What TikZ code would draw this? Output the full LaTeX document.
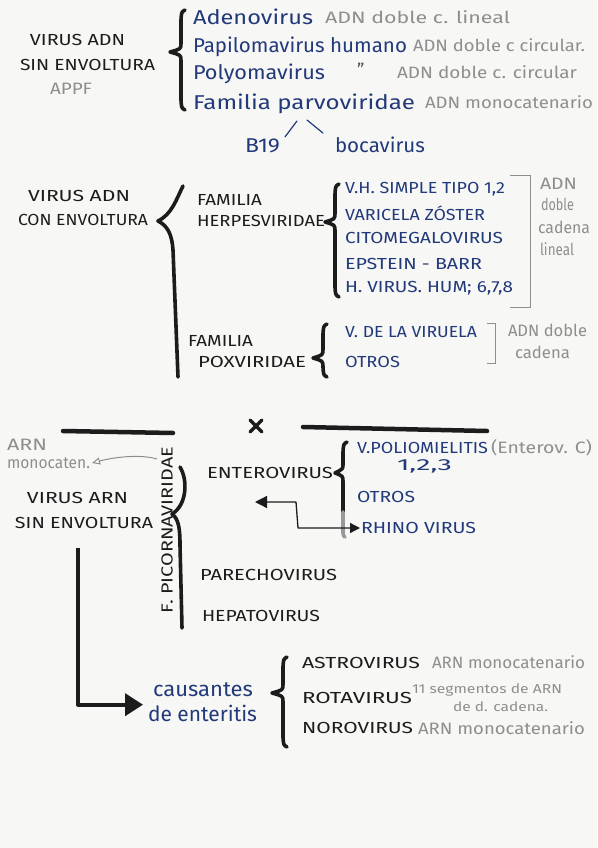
\documentclass[tikz,border=0pt]{standalone}
\usepackage{fontspec}
\setmainfont{Fira Sans}
\usepackage{graphicx}
\usetikzlibrary{arrows.meta}
\definecolor{ink}{HTML}{1C1C1C}
\definecolor{navy}{HTML}{22397A}
\definecolor{pencil}{HTML}{8E8E8E}
\definecolor{paper}{HTML}{F7F7F5}
\newcommand{\fw}[2]{\resizebox{#1pt}{\height}{#2}}
\newcommand{\mybrace}[5]{% x, ytop, ytip, ybot, tip depth
  \draw[bracestroke] ({#1+4},#2) .. controls ({#1+0.5},{#2+2}) .. (#1,{#2+10})
    -- (#1,{#3-9}) .. controls (#1,{#3-3}) .. ({#1-#5},#3)
    .. controls (#1,{#3+3}) .. (#1,{#3+9})
    -- (#1,{#4-10}) .. controls ({#1+0.5},{#4-2}) .. ({#1+4},#4);}
\tikzset{
  base/.style={anchor=west, inner sep=0pt, outer sep=0pt},
  blk/.style={base, text=ink, font=\fontsize{16}{16}\selectfont},
  blu/.style={base, text=navy, font=\fontsize{20}{20}\selectfont},
  bluc/.style={base, text=navy, font=\fontsize{16}{16}\selectfont},
  gry/.style={base, text=pencil, font=\fontsize{16.5}{16.5}\selectfont},
  grys/.style={base, text=pencil, font=\fontsize{13}{13}\selectfont},
  bracestroke/.style={draw=ink, line width=3.6pt, line cap=round, line join=round},
  bar/.style={draw=ink, line width=4.5pt, line cap=round},
  thinbracket/.style={draw=pencil, line width=1pt},
  bluline/.style={draw=navy, line width=1.2pt, line cap=round},
}
\begin{document}
\begin{tikzpicture}[x=1pt,y=-1pt]
\fill[paper] (0,0) rectangle (597,848);
\useasboundingbox (0,0) rectangle (597,848);

% ---------- Section 1: virus ADN sin envoltura
\node[blk] (s1a) at (30,40) {\fw{95}{VIRUS ADN}};
\node[blk] (s1b) at (20,65) {\fw{135}{SIN ENVOLTURA}};
\node[gry] (appf) at (50,89) {\fw{42}{APPF}};
\mybrace{181}{10}{52}{110}{11}
\node[blu] (adeno) at (193,17) {\fw{120}{Adenovirus}};
\node[gry] (g1) at (325,17) {\fw{185}{ADN doble c. lineal}};
\node[blu] (papi) at (193,47) {\fw{214}{Papilomavirus humano}};
\node[gry] (g2) at (413,45) {\fw{172}{ADN doble c circular.}};
\node[blu] (polyo) at (193,74) {\fw{132}{Polyomavirus}};
\node[base, text=ink!75, font=\fontsize{18}{18}\selectfont] (ditto) at (357,70) {''};
\node[gry] (g3) at (397,72) {\fw{180}{ADN doble c. circular}};
\node[blu] (famp) at (193,104) {\fw{222}{Familia parvoviridae}};
\node[gry] (g4) at (425,102) {\fw{168}{ADN monocatenario}};
\node[blu] (b19) at (245,146) {\fw{35}{B19}};
\node[blu] (boca) at (335,145) {\fw{90}{bocavirus}};
\coordinate (pv1) at (297,121);
\coordinate (pv2) at (307,120);
\draw[bluline] (pv1) -- ([shift={(5,-2)}]b19.north east);
\draw[bluline] (pv2) -- ([shift={(-12,-4)}]boca.north west);

% ---------- Section 2: virus ADN con envoltura
\node[blk] (s2a) at (28,196) {\fw{102}{VIRUS ADN}};
\node[blk] (s2b) at (18,220) {\fw{130}{CON ENVOLTURA}};
\draw[bracestroke] (183,186) .. controls (176,200) and (172,214) .. (158,221)
  .. controls (168,226) and (172,235) .. (173,250) -- (178,377);
\node[blk] (fam1) at (197,200) {\fw{65}{FAMILIA}};
\node[blk] (herpes) at (197,221) {\fw{128}{HERPESVIRIDAE}};
\mybrace{335}{184}{222}{297}{10}
\node[bluc] (h1) at (345,189) {\fw{160}{V.H. SIMPLE TIPO 1,2}};
\node[bluc] (h2) at (345,213) {\fw{140}{VARICELA ZÓSTER}};
\node[bluc] (h3) at (345,238) {\fw{158}{CITOMEGALOVIRUS}};
\node[bluc] (h4) at (345,264) {\fw{137}{EPSTEIN - BARR}};
\node[bluc] (h5) at (345,288) {\fw{168}{H. VIRUS. HUM; 6,7,8}};
\draw[thinbracket] (510,175) -- (530,175) -- (530,307) -- (510,307);
\node[gry] (l1) at (540,184) {\fw{37}{ADN}};
\node[gry] (l2) at (541,204) {\fw{33}{doble}};
\node[gry] (l3) at (538,227) {\fw{52}{cadena}};
\node[gry] (l4) at (540,249) {\fw{34}{lineal}};

\node[blk] (fam2) at (188,341) {\fw{65}{FAMILIA}};
\node[blk] (pox) at (198,362) {\fw{108}{POXVIRIDAE}};
\mybrace{323}{324}{358}{377}{10}
\node[bluc] (viru) at (345,332) {\fw{132}{V. DE LA VIRUELA}};
\node[bluc] (otros1) at (345,362) {\fw{55}{OTROS}};
\draw[thinbracket] (487,323) -- (495,323) -- (495,363) -- (487,363);
\node[gry] (p1) at (508,330) {\fw{79}{ADN doble}};
\node[gry] (p2) at (515,352) {\fw{55}{cadena}};

% ---------- Section 3: virus ARN sin envoltura
\coordinate (bl1) at (63,431);
\coordinate (bl2) at (173,433);
\coordinate (br1) at (303,427);
\coordinate (br2) at (487,431);
\draw[bar] (bl1) -- (bl2);
\draw[bar] (br1) -- (br2);
\draw[draw=ink, line width=3.2pt, line cap=round] (250,420) -- (262,432) (262,420) -- (250,432);

\node[gry] (arn) at (7,445) {\fw{40}{ARN}};
\node[gry] (mono) at (7,463) {\fw{83}{monocaten.}};
\node[blk, rotate=90, anchor=center] (pico) at (167,530) {\fw{166}{F. PICORNAVIRIDAE}};
\coordinate (picotop) at (157,459);
\draw[pencil, line width=1pt, -{Triangle[open,length=8pt,width=7pt]}]
  (picotop) .. controls (140,454) and (115,457) .. ([xshift=2pt]mono.east);

\node[blk] (s3a) at (27,498) {\fw{101}{VIRUS ARN}};
\node[blk] (s3b) at (15,523) {\fw{138}{SIN ENVOLTURA}};
\draw[bracestroke] (180,467) .. controls (188,480) and (187,505) .. (172,514)
  .. controls (179,519) and (180,530) .. (180,545) -- (182,628);

\node[blk] (entero) at (207,473) {\fw{126}{ENTEROVIRUS}};
\draw[bracestroke] (347,442) .. controls (343.5,444) .. (343,452) -- (343,464)
  .. controls (343,469) .. (335,473) .. controls (343,476) .. (343,482) -- (343,512);
\draw[bracestroke, draw=ink!45] (343,512) -- (343,533) .. controls (343.5,536) .. (345,537);
\node[bluc] (polio) at (357,448) {\fw{131}{V.POLIOMIELITIS}};
\node[gry] (entc) at (491,448) {\fw{101}{(Enterov. C)}};
\node[bluc] (n123) at (397,466) {\fw{55}{1,2,3}};
\node[bluc] (otros2) at (357,497) {\fw{58}{OTROS}};
\node[bluc] (rhino) at (361,528) {\fw{115}{RHINO VIRUS}};
\coordinate (dleft) at (255,502);
\draw[ink, line width=1.3pt, line join=round,
  {Triangle[length=12pt,width=12pt]}-{Triangle[length=10pt,width=10pt]}]
  (dleft) -- (296,502) -- (298,528) -- ([xshift=-1pt]rhino.west);

\node[blk] (pareo) at (200,575) {\fw{137}{PARECHOVIRUS}};
\node[blk] (hepa) at (202,616) {\fw{118}{HEPATOVIRUS}};

% ---------- causantes de enteritis
\coordinate (lstart) at (78,548);
\node[blu, font=\fontsize{21}{21}\selectfont] (caus) at (153,690) {\fw{100}{causantes}};
\node[blu, font=\fontsize{21}{21}\selectfont] (ente) at (148,713) {\fw{109}{de enteritis}};
\draw[ink, line width=4pt, line join=round, -{Triangle[length=18pt,width=22pt]}]
  (lstart) |- ([xshift=-5pt]ente.north west);
\mybrace{283}{657}{693}{747}{11}
\node[blk] (astro) at (302,663) {\fw{118}{ASTROVIRUS}};
\node[gry] (a1) at (432,662) {\fw{153}{ARN monocatenario}};
\node[blk] (rota) at (302,698) {\fw{110}{ROTAVIRUS}};
\node[grys] (r1) at (412,690) {\fw{150}{11 segmentos de ARN}};
\node[grys] (r2) at (453,707) {\fw{95}{de d. cadena.}};
\node[blk] (noro) at (302,728) {\fw{111}{NOROVIRUS}};
\node[gry] (n1) at (418,728) {\fw{167}{ARN monocatenario}};
\end{tikzpicture}
\end{document}
